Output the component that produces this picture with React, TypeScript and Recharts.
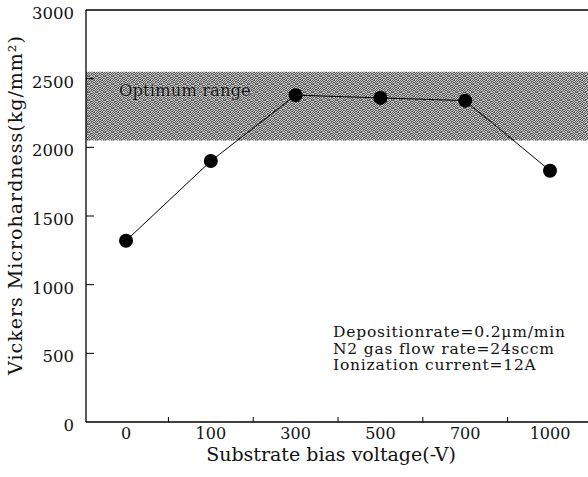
import React from 'react';
import { LineChart, Line, XAxis, YAxis, ReferenceArea, ReferenceLine, Customized } from 'recharts';

const biasLabels = ['0', '100', '300', '500', '700', '1000'];
const hardness = [1320, 1900, 2380, 2360, 2340, 1830];
const yTicks = [0, 500, 1000, 1500, 2000, 2500, 3000];
const xTicks = [0, 0.5, 1, 1.5, 2, 2.5, 3, 3.5, 4, 4.5, 5];
const optimumRange = [2050, 2550];
const notes = ['Depositionrate=0.2\u03bcm/min', 'N2 gas flow rate=24sccm', 'Ionization current=12A'];

const data = biasLabels.map((b, i) => ({ idx: i, bias: b, hv: hardness[i] }));

const FONT = '"DejaVu Serif", serif';

// grain for the shaded band
const NOISE = [
  '10100110',
  '01011001',
  '10010110',
  '01101001',
  '11000101',
  '00111010',
  '10100101',
  '01011010',
];

const YTick = ({ x, y, payload }: any) => {
  const v = payload.value;
  return (
    <g>
      {v > 0 && v < 3000 && <line x1={x} x2={x + 8} y1={y} y2={y} stroke="#000" />}
      <text x={x - 12} y={y} dy={9} textAnchor="end" style={{ fontFamily: FONT }} fontSize={16.5} fill="#111">
        {v}
      </text>
    </g>
  );
};

const XTick = ({ x, y, payload }: any) => {
  const v = payload.value;
  if (Number.isInteger(v)) {
    return (
      <text x={x} y={y} dy={17} textAnchor="middle" style={{ fontFamily: FONT }} fontSize={16} fill="#111">
        {biasLabels[v]}
      </text>
    );
  }
  return <line x1={x} x2={x} y1={y} y2={y - 5} stroke="#000" />;
};

const OptLabel = ({ viewBox }: any) => (
  <text
    x={viewBox.x + 33}
    y={viewBox.y + 24}
    style={{ fontFamily: FONT }}
    fontSize={16.5}
    fill="#111"
    stroke="#ddd"
    strokeWidth={0.6}
    paintOrder="stroke"
  >
    Optimum range
  </text>
);

const Extras = () => (
  <g>
    <defs>
      <pattern id="noise" width="8" height="8" patternUnits="userSpaceOnUse">
        <rect width="8" height="8" fill="#d6d6d6" />
        {NOISE.map((row, r) =>
          row.split('').map((c, k) =>
            c === '1' ? <rect key={`${r}-${k}`} x={k} y={r} width="1" height="1" fill="#484848" /> : null
          )
        )}
      </pattern>
    </defs>
  </g>
);

const Texts = () => (
  <g style={{ fontFamily: FONT }} fill="#111">
    {notes.map((n, i) => (
      <text key={n} x={333} y={337 + i * 16.7} fontSize={15.5} letterSpacing={0.8}>{n}</text>
    ))}
    <text x={331} y={461} textAnchor="middle" fontSize={19}>Substrate bias voltage(-V)</text>
    <text x={22} y={205} textAnchor="middle" fontSize={19} letterSpacing={1} transform="rotate(-90, 22, 205)">
      Vickers Microhardness(kg/mm²)
    </text>
  </g>
);

export default function App() {
  return (
    <div style={{ position: 'fixed', left: 0, top: 0, width: 588, height: 477, background: '#fff' }}>
      <LineChart width={588} height={477} data={data} margin={{ top: 10, right: 0, bottom: 0, left: 0 }}>
        <Customized component={Extras} />
        <XAxis
          type="number"
          dataKey="idx"
          domain={[-0.472, 5.448]}
          ticks={xTicks}
          interval={0}
          height={55}
          tickSize={0}
          tickMargin={0}
          tickLine={false}
          axisLine={{ stroke: '#000', strokeWidth: 1.3 }}
          tick={<XTick />}
        />
        <YAxis
          type="number"
          domain={[0, 3000]}
          ticks={yTicks}
          interval={0}
          width={86}
          tickSize={0}
          tickMargin={0}
          tickLine={false}
          axisLine={{ stroke: '#000', strokeWidth: 1.3 }}
          tick={<YTick />}
        />
        <ReferenceArea
          y1={optimumRange[0]}
          y2={optimumRange[1]}
          fill="url(#noise) #999"
          fillOpacity={1}
          stroke="none"
          label={<OptLabel />}
        />
        <ReferenceLine y={3000} stroke="#000" strokeWidth={1.3} />
        <Line
          type="linear"
          dataKey="hv"
          stroke="#000"
          strokeWidth={1}
          dot={{ r: 7, fill: '#000', stroke: '#000', strokeWidth: 0 }}
          isAnimationActive={false}
        />
        <Customized component={Texts} />
      </LineChart>
    </div>
  );
}
